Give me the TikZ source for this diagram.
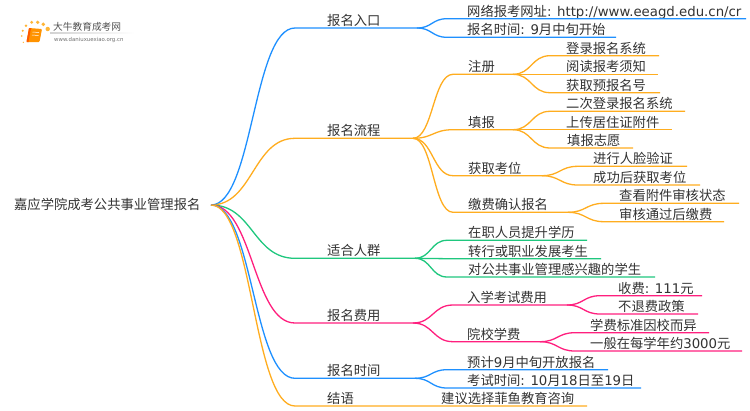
\documentclass[tikz,border=0pt]{standalone}
\usepackage{fontspec}
\usetikzlibrary{calc}
\setmainfont{Noto Sans CJK SC}
\newfontfamily\latfont{DejaVu Sans}
\newcommand{\lat}[1]{{\latfont #1}}
\definecolor{cblue}{HTML}{1E90FF}
\definecolor{camber}{HTML}{FFAD1F}
\definecolor{cgreen}{HTML}{1FC77E}
\definecolor{cpink}{HTML}{FF1F7E}
\definecolor{ink}{HTML}{333333}
\tikzset{
  label text/.style={anchor=base west,inner sep=0pt,text=ink,font=\fontsize{13.3}{16}\selectfont},
  conn/.style={line width=1.3pt},
}
% name, parent, colour, x start, x end, y of line, x of text, text
\newcommand{\branch}[8]{%
  \coordinate (#1-s) at (#4,#6);
  \coordinate (#1-e) at (#5,#6);
  \node[label text] (#1) at (#7,#6-2.6) {#8};
  \coordinate (#1-m) at ($(#2-e)!.5!(#1-s)$);
  \draw[conn,#3] (#2-e) .. controls (#1-m |- #2-e) and (#1-m |- #1-s) .. (#1-s) -- (#1-e);
}
\begin{document}
\begin{tikzpicture}[x=1pt,y=-1pt]
\useasboundingbox (0,0) rectangle (750,410);
\fill[white] (0,0) rectangle (750,410);
% root
\node[label text] (root) at (14,209.5) {嘉应学院成考公共事业管理报名};
\coordinate (root-e) at (211,205);
% 报名入口
\branch{a}{root}{cblue}{295}{417}{28}{327}{报名入口}
\branch{a1}{a}{cblue}{447}{746}{18.7}{467}{网络报考网址\lat{: http://www.eeagd.edu.cn/cr}}
\branch{a2}{a}{cblue}{447}{616}{37.3}{467}{报名时间\lat{: 9}月中旬开始}
% 报名流程
\branch{b}{root}{camber}{295}{413}{138.3}{327}{报名流程}
\branch{b1}{b}{camber}{453}{513}{74.3}{468}{注册}
\branch{b11}{b1}{camber}{550}{659}{55.7}{566}{登录报名系统}
\branch{b12}{b1}{camber}{550}{658}{74.3}{566}{阅读报考须知}
\branch{b13}{b1}{camber}{550}{660}{92.7}{566}{获取预报名号}
\branch{b2}{b}{camber}{453}{513}{129.7}{468}{填报}
\branch{b21}{b2}{camber}{550}{685}{111.3}{566}{二次登录报名系统}
\branch{b22}{b2}{camber}{550}{672}{129.7}{566}{上传居住证附件}
\branch{b23}{b2}{camber}{550}{633}{148}{567}{填报志愿}
\branch{b3}{b}{camber}{453}{542}{175.7}{468}{获取考位}
\branch{b31}{b3}{camber}{578}{687}{166.3}{593}{进行人脸验证}
\branch{b32}{b3}{camber}{578}{700}{185}{593}{成功后获取考位}
\branch{b4}{b}{camber}{453}{568}{212.3}{468}{缴费确认报名}
\branch{b41}{b4}{camber}{604}{739}{203.3}{619}{查看附件审核状态}
\branch{b42}{b4}{camber}{604}{724}{221.7}{619}{审核通过后缴费}
% 适合人群
\branch{c}{root}{cgreen}{295}{415}{258.3}{327}{适合人群}
\branch{c1}{c}{cgreen}{447}{587}{240.3}{468}{在职人员提升学历}
\branch{c2}{c}{cgreen}{447}{601}{258.7}{468}{转行或职业发展考生}
\branch{c3}{c}{cgreen}{447}{655}{277}{468}{对公共事业管理感兴趣的学生}
% 报名费用
\branch{d}{root}{cpink}{295}{413}{323}{327}{报名费用}
\branch{d1}{d}{cpink}{453}{567}{305}{467}{入学考试费用}
\branch{d11}{d1}{cpink}{600}{702}{295.7}{618}{收费\lat{: 111}元}
\branch{d12}{d1}{cpink}{600}{698}{314}{618}{不退费政策}
\branch{d2}{d}{cpink}{453}{540}{341.7}{467}{院校学费}
\branch{d21}{d2}{cpink}{575}{709}{332.7}{590}{学费标准因校而异}
\branch{d22}{d2}{cpink}{575}{742}{351}{590}{一般在每学年约\lat{3000}元}
% 报名时间
\branch{e}{root}{cblue}{295}{415}{378.3}{327}{报名时间}
\branch{e1}{e}{cblue}{447}{608}{369.7}{467}{预计\lat{9}月中旬开放报名}
\branch{e2}{e}{cblue}{447}{641}{388}{467}{考试时间\lat{: 10}月\lat{18}日至\lat{19}日}
% 结语
\branch{f}{root}{camber}{295}{587}{406}{327}{结语}
\node[label text] (f1) at (441,403.4) {建议选择菲鱼教育咨询};
% logo
\foreach \px/\py/\r in {23.3/42.3/0.7,21.7/36/0.9,22.7/30.7/1.1,26/25.7/1.3,31.7/22.3/1.6,37.7/22.3/1.8,43.3/24.3/1.9,47.7/29/2.2}
  \fill[camber!90!white] (\px,\py) circle (\r);
\fill[orange!85!yellow,rounded corners=1pt] (29,28) -- (42,29) -- (39.5,42) -- (26.5,42) -- cycle;
\fill[orange!70!red] (29,28) -- (31,28.2) -- (28.5,42) -- (26.5,42) -- cycle;
\draw[white,line width=.5pt] (32.5,32) -- (39,32.5) (32,35) -- (38.5,35.5);
\node[anchor=base west,inner sep=0pt,text=ink!85,font=\fontsize{9.7}{11}\selectfont] (logo) at (53,30.5) {大牛教育成考网};
\shade[left color=gray!35,right color=white] (50,32.8) rectangle (134,33.4);
\node[anchor=base west,inner sep=0pt,text=ink!70,font=\fontsize{5.4}{6}\selectfont] (logourl) at (54,41) {\lat{www.daniuxuexiao.org.cn}};
\end{tikzpicture}
\end{document}
